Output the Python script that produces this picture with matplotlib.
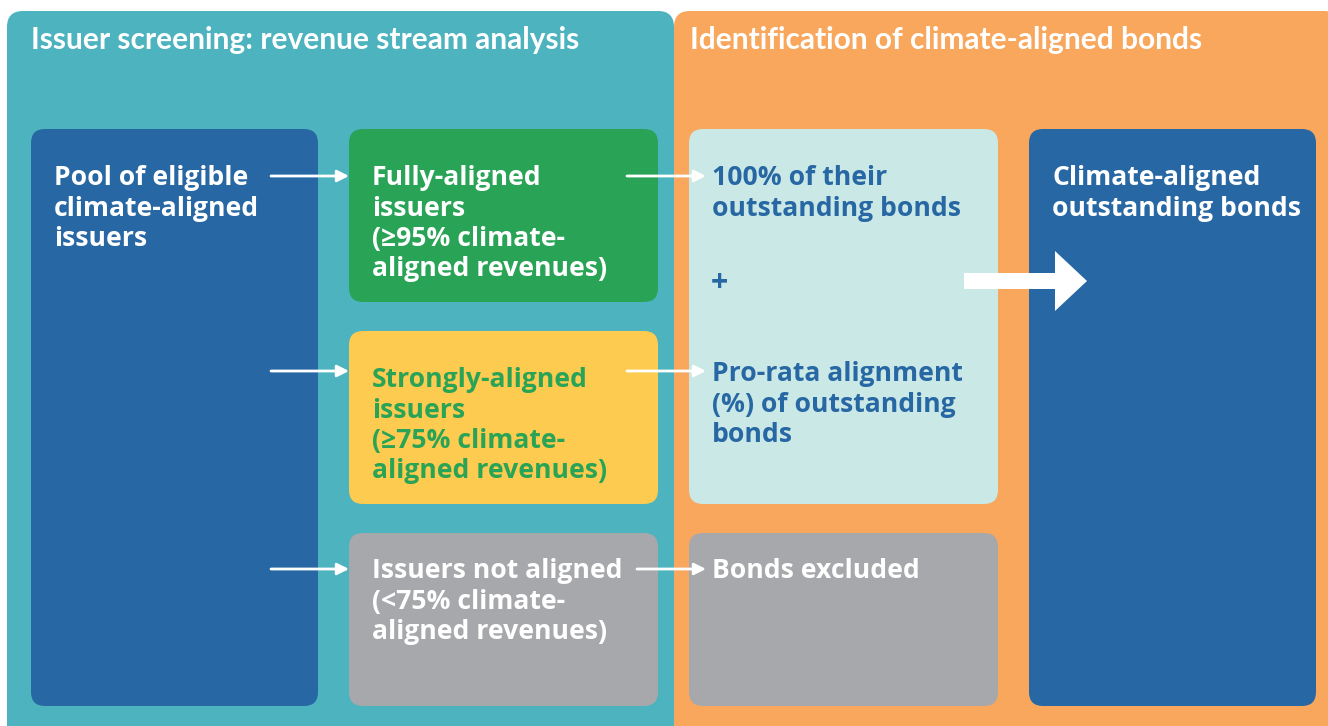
import matplotlib.pyplot as plt
from matplotlib.patches import FancyBboxPatch, FancyArrow

# panel titles
panel_titles = ["Issuer screening: revenue stream analysis",
                "Identification of climate-aligned bonds"]

# box labels (column, row)
pool_text = ["Pool of eligible", "climate-aligned", "issuers"]
issuer_texts = [
    ["Fully-aligned", "issuers", "(\u226595% climate-", "aligned revenues)"],
    ["Strongly-aligned", "issuers", "(\u226575% climate-", "aligned revenues)"],
    ["Issuers not aligned", "(<75% climate-", "aligned revenues)"],
]
bond_texts = [
    ["100% of their", "outstanding bonds"],
    ["Pro-rata alignment", "(%) of outstanding", "bonds"],
    ["Bonds excluded"],
]
result_text = ["Climate-aligned", "outstanding bonds"]

TEAL = "#4db3bf"
ORANGE = "#f8a75d"
BLUE = "#2767a3"
GREEN = "#29a456"
YELLOW = "#fdcb50"
GREY = "#a7a8ac"
LIGHT = "#cae8e5"

plt.rcParams['font.family'] = ['Open Sans', 'DejaVu Sans']

fig = plt.figure(figsize=(13.28, 7.26), dpi=100)
ax = fig.add_axes([0, 0, 1, 1])
ax.set_xlim(0, 1328)
ax.set_ylim(726, 0)
ax.axis('off')


def box(x0, y0, x1, y1, color, r=14, z=1):
    p = FancyBboxPatch((x0 + r, y0 + r), (x1 - x0) - 2 * r, (y1 - y0) - 2 * r,
                       boxstyle="round,pad=%d" % r, fc=color, ec='none', zorder=z)
    ax.add_patch(p)


def lines(x, y, txt, color='white', size=19.1):
    for i, t in enumerate(txt):
        ax.text(x, y + 2 + i * 30.5, t, color=color, fontsize=size, fontweight='bold',
                va='center', ha='left', zorder=5)


# big panels
box(7, 11, 674, 745, TEAL, r=16)
box(674, 11, 1340, 745, ORANGE, r=16)
for x, t in zip([31, 690], panel_titles):
    ax.text(x, 40, t, color='white', fontsize=21.5, fontweight='bold', va='center',
            family=['Lato', 'DejaVu Sans'])

# left column
box(31, 129, 318, 706, BLUE)
lines(54, 176, pool_text)

rows = [(129, 302), (331, 504), (533, 706)]
issuer_cols = [GREEN, YELLOW, GREY]
issuer_txt_cols = ['white', GREEN, 'white']
for (y0, y1), c, tc, t in zip(rows, issuer_cols, issuer_txt_cols, issuer_texts):
    box(349, y0, 658, y1, c)
    lines(372, y0 + 47 if y0 != 533 else y0 + 36, t, color=tc)

# bonds column
box(689, 129, 998, 504, LIGHT)
box(689, 533, 998, 706, GREY)
lines(712, 176, bond_texts[0], color=BLUE)
ax.text(719, 283, "+", color=BLUE, fontsize=22, fontweight='bold', ha='center', va='center', zorder=5)
lines(712, 372, bond_texts[1], color=BLUE)
lines(712, 569, bond_texts[2], color='white')

# result
box(1029, 129, 1316, 706, BLUE)
lines(1052, 176, result_text)

# small arrows
arrow_rows = [176, 371, 569]
for y in arrow_rows:
    ax.annotate("", xy=(349, y), xytext=(271, y),
                arrowprops=dict(arrowstyle='-|>,head_length=0.7,head_width=0.35', color='white', lw=2,
                                shrinkA=0, shrinkB=0), zorder=6)
for y, xs in zip(arrow_rows, [627, 627, 637]):
    ax.annotate("", xy=(706, y), xytext=(xs, y),
                arrowprops=dict(arrowstyle='-|>,head_length=0.7,head_width=0.35', color='white', lw=2,
                                shrinkA=0, shrinkB=0), zorder=6)

# big arrow
ax.add_patch(FancyArrow(964, 281, 123, 0, width=16, head_width=60, head_length=32,
                        length_includes_head=True, fc='white', ec='none', zorder=6))

fig.savefig("out.png", dpi=100)
